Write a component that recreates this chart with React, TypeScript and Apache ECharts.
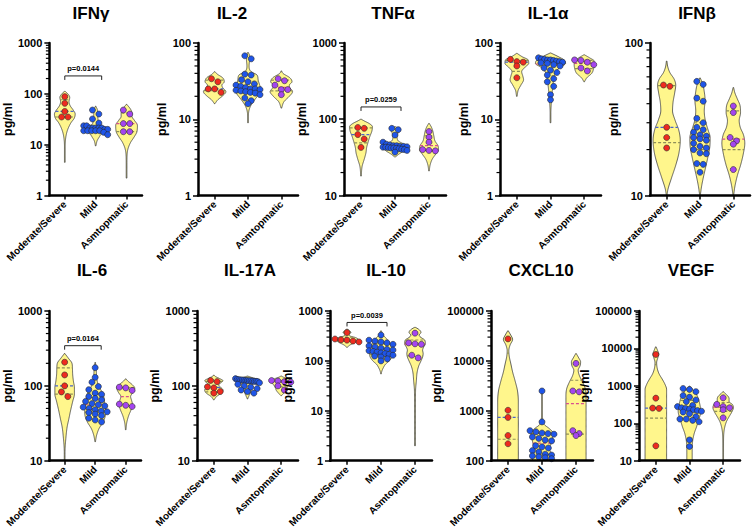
import React, { useEffect, useRef } from 'react';
import * as echarts from 'echarts';

// ---------------- DATA ----------------
const GROUPS = ['Moderate/Severe', 'Mild', 'Asmtopmatic'];
const TITLES = ['IFNγ', 'IL-2', 'TNFα', 'IL-1α', 'IFNβ', 'IL-6', 'IL-17A', 'IL-10', 'CXCL10', 'VEGF'];
const Y_MIN = [1, 1, 10, 1, 10, 10, 10, 1, 100, 10];
const Y_MAX = [1000, 100, 1000, 100, 100, 1000, 1000, 1000, 100000, 100000];
const P_TEXT = ['p=0.0144', '', 'p=0.0259', '', '', 'p=0.0164', '', 'p=0.0039', '', ''];
const P_LEVEL = [225, 0, 145, 0, 0, 344, 0, 590, 0, 0];

// points per group: [Moderate/Severe, Mild, Asymptomatic]
const IFNG_POINTS = [
  [88, 65, 45, 35, 35],
  [48, 40, 32, 26.6, 23.5, 23.5, 21.3, 21.3, 21.3, 21.3, 21.3, 20, 20, 18.8, 18.8, 18.8, 18.8, 18.8, 17.5, 15.7],
  [48, 40, 26, 26, 18, 18],
];
const IL2_POINTS = [
  [34, 31, 25, 25, 22.5],
  [68, 62, 39, 38, 33, 31, 29, 28, 27, 26, 25, 25, 24.5, 24, 23.5, 23, 22.5, 22, 21, 19, 17.5, 16],
  [34, 32, 28, 24.5, 24.5, 21],
];
const TNFA_POINTS = [
  [78, 76, 63, 55, 42.7],
  [76, 73, 62, 50, 47, 46, 45, 45, 44, 44, 43.5, 43, 43, 42.5, 42, 42, 41.5, 41, 40.5, 40, 39, 37],
  [69, 58, 50, 40, 39, 38.5],
];
const IL1A_POINTS = [
  [61, 57, 56, 50, 35],
  [64, 62, 61, 60, 60, 59, 58, 57, 56, 55, 54, 52, 50, 47, 44, 41, 38, 34, 31, 27, 21, 18],
  [60, 59, 56, 52, 47, 43],
];
const IFNB_POINTS = [
  [53, 52, 28, 24, 20.5],
  [56, 53.5, 43.5, 41.5, 32, 30, 28, 27, 26, 25, 24.5, 24, 23.5, 23, 22, 21, 20.5, 20, 19, 18.8, 16.2, 16, 14.2],
  [38.6, 35, 24, 22.8, 21.7, 14.8],
];
const IL6_POINTS = [
  [207, 140, 100, 83, 72],
  [175, 130, 112, 98, 89, 80, 77, 72, 68, 65, 62, 58, 56, 54, 52, 50, 48, 46, 45, 44, 42, 40, 37, 35, 33],
  [96, 94, 87, 57, 55, 53],
];
const IL17A_POINTS = [
  [118, 114, 97, 94, 84, 80],
  [125, 122, 121, 120, 120, 119, 118, 118, 117, 117, 116, 115, 115, 114, 110, 105, 100, 96, 92, 88, 84, 80],
  [118, 116, 114, 112, 100, 88],
];
const IL10_POINTS = [
  [370, 275, 265, 260, 250, 240],
  [330, 260, 250, 240, 230, 215, 200, 190, 180, 170, 165, 160, 155, 150, 145, 140, 135, 130, 125, 120, 110, 100],
  [360, 230, 220, 215, 130, 115],
];
const CXCL10_POINTS = [
  [27600, 1026, 737, 320, 219],
  [2500, 600, 400, 380, 360, 350, 340, 300, 280, 260, 250, 200, 190, 180, 160, 150, 135, 130, 125, 120, 115, 110],
  [8900, 2500, 2400, 400, 350, 320],
];
const VEGF_POINTS = [
  [6900, 470, 255, 250, 25],
  [850, 800, 700, 550, 500, 420, 380, 300, 280, 260, 250, 240, 230, 220, 210, 200, 180, 150, 130, 130, 120, 110, 36, 24],
  [480, 320, 280, 260, 230, 140],
];

// violin outlines: [value, relative half width]
const IFNG_VIOLIN = [
  [[4.5, 0.01], [10, 0.015], [15, 0.05], [20, 0.12], [27, 0.25], [33, 0.38], [40, 0.42], [48, 0.34], [58, 0.22], [70, 0.17], [85, 0.2], [100, 0.12], [112, 0.01]],
  [[9.5, 0.01], [12, 0.06], [14, 0.14], [16, 0.22], [18, 0.35], [20, 0.42], [22, 0.36], [25, 0.15], [30, 0.1], [38, 0.08], [48, 0.07], [57, 0.01]],
  [[2.2, 0.01], [5, 0.015], [8, 0.05], [11, 0.16], [14, 0.3], [18, 0.42], [24, 0.44], [30, 0.32], [36, 0.22], [42, 0.22], [50, 0.16], [62, 0.01]],
];
const IL2_VIOLIN = [
  [[16, 0.01], [18, 0.12], [20, 0.28], [23, 0.42], [26, 0.3], [28, 0.27], [31, 0.36], [35, 0.3], [39, 0.1], [42, 0.01]],
  [[9, 0.01], [12, 0.02], [15, 0.1], [18, 0.25], [21, 0.4], [24, 0.5], [28, 0.44], [33, 0.38], [38, 0.34], [42, 0.12], [50, 0.04], [62, 0.06], [68, 0.06], [75, 0.01]],
  [[14, 0.01], [17, 0.1], [20, 0.3], [23, 0.42], [26, 0.32], [28, 0.3], [31, 0.4], [35, 0.32], [40, 0.06], [43, 0.01]],
];
const TNFA_VIOLIN = [
  [[18, 0.01], [24, 0.04], [30, 0.12], [36, 0.18], [43, 0.21], [50, 0.26], [60, 0.33], [70, 0.4], [80, 0.42], [88, 0.3], [95, 0.12], [100, 0.01]],
  [[32, 0.01], [35, 0.15], [39, 0.35], [43, 0.4], [47, 0.33], [52, 0.12], [58, 0.08], [65, 0.1], [72, 0.14], [77, 0.08], [80, 0.01]],
  [[21, 0.01], [25, 0.04], [30, 0.12], [35, 0.25], [40, 0.35], [45, 0.33], [52, 0.22], [60, 0.18], [70, 0.14], [80, 0.08], [88, 0.01]],
];
const IL1A_VIOLIN = [
  [[20, 0.01], [24, 0.05], [28, 0.15], [33, 0.25], [37, 0.22], [42, 0.18], [48, 0.3], [54, 0.44], [60, 0.42], [66, 0.2], [73, 0.01]],
  [[9, 0.01], [13, 0.015], [18, 0.04], [24, 0.07], [30, 0.1], [36, 0.14], [42, 0.2], [48, 0.35], [54, 0.56], [60, 0.5], [66, 0.3], [74, 0.01]],
  [[31, 0.01], [35, 0.1], [40, 0.28], [46, 0.35], [52, 0.37], [58, 0.37], [64, 0.2], [70, 0.01]],
];
const IFNB_VIOLIN = [
  [[10, 0.01], [11, 0.05], [13, 0.18], [16, 0.35], [19, 0.46], [23, 0.51], [27, 0.45], [31, 0.32], [36, 0.22], [41, 0.24], [47, 0.3], [53, 0.34], [58, 0.28], [64, 0.12], [70, 0.04], [76, 0.01]],
  [[10, 0.01], [11.5, 0.06], [13, 0.12], [15, 0.2], [18, 0.3], [21, 0.37], [24, 0.38], [27, 0.3], [31, 0.2], [36, 0.16], [42, 0.19], [48, 0.16], [54, 0.1], [59, 0.01]],
  [[10, 0.01], [11.5, 0.06], [13.5, 0.15], [16, 0.28], [19, 0.38], [22, 0.43], [25, 0.38], [28, 0.26], [31, 0.22], [35, 0.27], [39, 0.25], [43, 0.15], [47, 0.06], [51, 0.01]],
];
const IL6_VIOLIN = [
  [[10, 0.01], [15, 0.02], [20, 0.05], [28, 0.1], [36, 0.17], [48, 0.25], [62, 0.33], [78, 0.4], [95, 0.4], [115, 0.36], [140, 0.33], [170, 0.32], [200, 0.3], [235, 0.15], [270, 0.01]],
  [[18, 0.01], [22, 0.06], [27, 0.16], [32, 0.3], [38, 0.4], [45, 0.43], [55, 0.4], [65, 0.37], [78, 0.33], [92, 0.2], [110, 0.1], [135, 0.06], [170, 0.04], [205, 0.01]],
  [[26, 0.01], [32, 0.04], [40, 0.12], [48, 0.22], [56, 0.28], [64, 0.24], [72, 0.2], [82, 0.3], [93, 0.37], [105, 0.25], [115, 0.1], [124, 0.01]],
];
const IL17A_VIOLIN = [
  [[65, 0.01], [72, 0.1], [80, 0.28], [88, 0.34], [96, 0.25], [103, 0.18], [110, 0.26], [117, 0.34], [126, 0.2], [134, 0.05], [139, 0.01]],
  [[67, 0.01], [73, 0.05], [80, 0.1], [88, 0.14], [96, 0.14], [104, 0.18], [110, 0.3], [116, 0.43], [122, 0.4], [128, 0.2], [135, 0.01]],
  [[74, 0.01], [80, 0.1], [87, 0.18], [95, 0.22], [103, 0.28], [110, 0.35], [117, 0.37], [124, 0.26], [130, 0.1], [135, 0.01]],
];
const IL10_VIOLIN = [
  [[188, 0.01], [210, 0.12], [235, 0.3], [255, 0.38], [275, 0.4], [295, 0.3], [315, 0.12], [340, 0.08], [370, 0.14], [400, 0.1], [433, 0.01]],
  [[55, 0.01], [62, 0.03], [72, 0.08], [85, 0.16], [100, 0.3], [120, 0.4], [140, 0.42], [165, 0.4], [200, 0.36], [240, 0.3], [280, 0.2], [330, 0.08], [370, 0.04], [400, 0.01]],
  [[2, 0.01], [10, 0.015], [25, 0.02], [40, 0.05], [60, 0.08], [80, 0.14], [100, 0.22], [120, 0.28], [140, 0.3], [165, 0.28], [190, 0.32], [220, 0.38], [260, 0.36], [300, 0.2], [330, 0.15], [370, 0.22], [410, 0.18], [450, 0.08], [470, 0.01]],
];
const CXCL10_VIOLIN = [
  [[50, 0.38], [1500, 0.38], [2500, 0.35], [4000, 0.26], [6000, 0.17], [9000, 0.1], [12000, 0.05], [16000, 0.03], [21000, 0.08], [27000, 0.17], [33000, 0.1], [40000, 0.01]],
  [[100, 0.3], [104, 0.34], [115, 0.38], [130, 0.4], [150, 0.32], [175, 0.25], [210, 0.32], [260, 0.36], [320, 0.4], [380, 0.38], [450, 0.25], [520, 0.1], [650, 0.03], [900, 0.015], [2600, 0.01]],
  [[50, 0.37], [2000, 0.37], [2800, 0.34], [3800, 0.24], [5000, 0.13], [6500, 0.08], [8000, 0.15], [9500, 0.17], [11500, 0.1], [14000, 0.01]],
];
const VEGF_VIOLIN = [
  [[5, 0.4], [800, 0.4], [1100, 0.34], [1500, 0.24], [2100, 0.12], [3000, 0.05], [4200, 0.03], [5500, 0.07], [7000, 0.11], [9000, 0.06], [11000, 0.01]],
  [[8, 0.1], [20, 0.1], [35, 0.12], [55, 0.18], [80, 0.26], [110, 0.32], [150, 0.38], [210, 0.42], [280, 0.4], [380, 0.36], [500, 0.31], [650, 0.22], [800, 0.12], [990, 0.01]],
  [[10, 0.01], [40, 0.015], [60, 0.03], [80, 0.06], [110, 0.12], [150, 0.22], [200, 0.32], [260, 0.38], [320, 0.34], [380, 0.22], [450, 0.22], [530, 0.18], [620, 0.08], [700, 0.01]],
];

const PANEL_POINTS = [IFNG_POINTS, IL2_POINTS, TNFA_POINTS, IL1A_POINTS, IFNB_POINTS, IL6_POINTS, IL17A_POINTS, IL10_POINTS, CXCL10_POINTS, VEGF_POINTS];
const PANEL_VIOLINS = [IFNG_VIOLIN, IL2_VIOLIN, TNFA_VIOLIN, IL1A_VIOLIN, IFNB_VIOLIN, IL6_VIOLIN, IL17A_VIOLIN, IL10_VIOLIN, CXCL10_VIOLIN, VEGF_VIOLIN];

// ---------------- LAYOUT / STYLE ----------------
const GRID_LEFT = [39, 198, 344, 500, 650, 40, 197, 330, 491, 639];
const GRID_WIDTH = [103, 100, 102, 101, 100, 101, 101, 102, 102, 101];
const ROW_TOP = [43, 311];
const GRID_HEIGHT = 152.5;
const NAME_GAP = [24, 17, 26, 15, 15, 23, 22, 18, 29, 27];
const TITLE_X = [91, 232, 393, 548, 697, 92, 250, 386, 541, 691];
const TITLE_Y = [13, 270];

const FONT = '"Liberation Sans", Arial, Helvetica, sans-serif';
const NARROW = '"Liberation Sans Narrow", "Liberation Sans", Arial, sans-serif';
const VIOLIN_FILL = '#fff68c';
const POINT_COLORS = ['#ee2b1f', '#1f55e8', '#a445ef'];
const MEDIAN_COLORS = ['#4863cc', '#d84f90', '#d84f90'];
const QUARTILE_COLOR = '#8f8f58';
const WIDTH_K = 0.8;
const POINT_R = 3;

function makeInterp(knots: number[][]) {
  const xs = knots.map((k) => Math.log10(k[0]));
  const ys = knots.map((k) => k[1]);
  const n = xs.length;
  const d: number[] = [];
  const m: number[] = new Array(n).fill(0);
  for (let i = 0; i < n - 1; i++) d.push((ys[i + 1] - ys[i]) / (xs[i + 1] - xs[i]));
  m[0] = d[0];
  m[n - 1] = d[n - 2];
  for (let i = 1; i < n - 1; i++) m[i] = d[i - 1] * d[i] <= 0 ? 0 : (d[i - 1] + d[i]) / 2;
  for (let i = 0; i < n - 1; i++) {
    if (d[i] === 0) { m[i] = 0; m[i + 1] = 0; continue; }
    const a = m[i] / d[i];
    const b = m[i + 1] / d[i];
    const s = a * a + b * b;
    if (s > 9) { const t = 3 / Math.sqrt(s); m[i] = t * a * d[i]; m[i + 1] = t * b * d[i]; }
  }
  return (x: number) => {
    if (x <= xs[0]) return ys[0];
    if (x >= xs[n - 1]) return ys[n - 1];
    let i = 0;
    while (x > xs[i + 1]) i++;
    const h = xs[i + 1] - xs[i];
    const t = (x - xs[i]) / h;
    const t2 = t * t, t3 = t2 * t;
    const r = (2 * t3 - 3 * t2 + 1) * ys[i] + (t3 - 2 * t2 + t) * h * m[i] + (-2 * t3 + 3 * t2) * ys[i + 1] + (t3 - t2) * h * m[i + 1];
    return Math.max(0, r);
  };
}

function quantile(sorted: number[], p: number) {
  const n = sorted.length;
  const pos = p * (n + 1);
  if (pos <= 1) return sorted[0];
  if (pos >= n) return sorted[n - 1];
  const lo = Math.floor(pos);
  const f = pos - lo;
  return sorted[lo - 1] + f * (sorted[lo] - sorted[lo - 1]);
}

function buildOption() {
  const grid: any[] = [];
  const xAxis: any[] = [];
  const yAxis: any[] = [];
  const series: any[] = [];
  const graphic: any[] = [];

  for (let i = 0; i < 10; i++) {
    const row = i < 5 ? 0 : 1;
    grid.push({ left: GRID_LEFT[i], top: ROW_TOP[row], width: GRID_WIDTH[i], height: GRID_HEIGHT });
    xAxis.push({
      gridIndex: i,
      type: 'category',
      data: GROUPS,
      z: 10,
      axisLine: { show: true, lineStyle: { color: '#000', width: 2.5 } },
      axisTick: { show: true, alignWithLabel: true, length: 4, lineStyle: { color: '#000', width: 1.5 } },
      axisLabel: { interval: 0, rotate: 45, margin: 7, color: '#000', fontSize: 10, fontWeight: 'bold', fontFamily: FONT },
      splitLine: { show: false },
    });
    yAxis.push({
      gridIndex: i,
      type: 'log',
      logBase: 10,
      min: Y_MIN[i],
      max: Y_MAX[i],
      z: 10,
      name: 'pg/ml',
      nameLocation: 'middle',
      nameGap: NAME_GAP[i],
      nameTextStyle: { color: '#000', fontSize: 12.5, fontWeight: 'bold', fontFamily: FONT },
      axisLine: { show: true, lineStyle: { color: '#000', width: 2.5 } },
      axisTick: { show: true, length: 5, lineStyle: { color: '#000', width: 1.5 } },
      axisLabel: {
        show: true, showMinLabel: true, showMaxLabel: true, margin: 7,
        color: '#000', fontSize: 11, fontWeight: 'bold', fontFamily: FONT,
        formatter: (v: number) => String(Math.round(v)),
      },
      splitLine: { show: false },
      minorTick: { show: false },
    });

    const pts = PANEL_POINTS[i];
    const vio = PANEL_VIOLINS[i];
    const interps = vio.map(makeInterp);
    const yMin = Y_MIN[i];
    const baseData = [[0, yMin], [1, yMin], [2, yMin]];

    // violins + median/quartile lines
    series.push({
      type: 'custom',
      xAxisIndex: i,
      yAxisIndex: i,
      clip: true,
      silent: true,
      z: 2,
      data: baseData,
      encode: { x: 0, y: 1 },
      renderItem: (params: any, api: any) => {
        const g = params.dataIndex;
        const knots = vio[g];
        const interp = interps[g];
        const cx = api.coord([g, yMin])[0];
        const band = api.size([1, 0])[0];
        const scale = band * WIDTH_K;
        const t0 = Math.log10(knots[0][0]);
        const t1 = Math.log10(knots[knots.length - 1][0]);
        const N = 140;
        const right: number[][] = [];
        const left: number[][] = [];
        for (let k = 0; k <= N; k++) {
          const t = t0 + ((t1 - t0) * k) / N;
          const y = api.coord([g, Math.pow(10, t)])[1];
          const hw = Math.max(0.35, interp(t) * scale);
          right.push([cx + hw, y]);
          left.push([cx - hw, y]);
        }
        const poly = right.concat(left.reverse());
        const children: any[] = [
          { type: 'polygon', shape: { points: poly }, style: { fill: VIOLIN_FILL, stroke: '#3c3c3c', lineWidth: 0.8 } },
        ];
        const sorted = [...pts[g]].sort((a, b) => a - b);
        const qs = [quantile(sorted, 0.25), quantile(sorted, 0.5), quantile(sorted, 0.75)];
        qs.forEach((v, qi) => {
          const t = Math.log10(v);
          if (t < t0 || t > t1) return;
          const y = api.coord([g, v])[1];
          const hw = interp(t) * scale;
          children.push({
            type: 'line',
            shape: { x1: cx - hw, y1: y, x2: cx + hw, y2: y },
            style: { stroke: qi === 1 ? MEDIAN_COLORS[g] : QUARTILE_COLOR, lineWidth: 1.2, lineDash: [3, 2] },
          });
        });
        return { type: 'group', children };
      },
    });

    // scatter points, beeswarm style
    series.push({
      type: 'custom',
      xAxisIndex: i,
      yAxisIndex: i,
      silent: true,
      z: 3,
      data: baseData,
      encode: { x: 0, y: 1 },
      renderItem: (params: any, api: any) => {
        const g = params.dataIndex;
        const cx = api.coord([g, yMin])[0];
        const items = pts[g].map((v) => ({ y: api.coord([g, v])[1], x: cx }));
        items.sort((a, b) => a.y - b.y);
        const D = POINT_R * 2 + 0.4;
        const rows: any[][] = [];
        items.forEach((it) => {
          const last = rows[rows.length - 1];
          if (last && it.y - last[0].y < D * 0.75) last.push(it);
          else rows.push([it]);
        });
        rows.forEach((r) => {
          const n = r.length;
          const step = n > 1 ? Math.min(D, 24 / (n - 1)) : 0;
          r.forEach((it, k) => { it.x = cx + (k - (n - 1) / 2) * step; });
        });
        const children = items.map((it) => ({
          type: 'circle',
          shape: { cx: it.x, cy: it.y, r: POINT_R },
          style: { fill: POINT_COLORS[g], stroke: '#2a2a2a', lineWidth: 0.6 },
        }));
        return { type: 'group', children };
      },
    });

    // log minor ticks on y axis
    series.push({
      type: 'custom',
      xAxisIndex: i,
      yAxisIndex: i,
      silent: true,
      z: 11,
      data: [[0, yMin]],
      encode: { x: 0, y: 1 },
      renderItem: (params: any, api: any) => {
        const x = params.coordSys.x;
        const children: any[] = [];
        const d0 = Math.round(Math.log10(Y_MIN[i]));
        const d1 = Math.round(Math.log10(Y_MAX[i]));
        for (let d = d0; d < d1; d++) {
          for (let k = 2; k <= 9; k++) {
            const y = api.coord([0, k * Math.pow(10, d)])[1];
            children.push({ type: 'line', shape: { x1: x - 3.5, y1: y, x2: x, y2: y }, style: { stroke: '#000', lineWidth: 1.2 } });
          }
        }
        return { type: 'group', children };
      },
    });

    // significance bracket
    if (P_TEXT[i]) {
      const level = P_LEVEL[i];
      const label = P_TEXT[i];
      series.push({
        type: 'custom',
        xAxisIndex: i,
        yAxisIndex: i,
        silent: true,
        z: 4,
        data: [[0, level]],
        encode: { x: 0, y: 1 },
        renderItem: (params: any, api: any) => {
          const p0 = api.coord([0, level]);
          const p1 = api.coord([1, level]);
          const x0 = p0[0];
          const x1 = p1[0] + 6;
          const y = p0[1];
          return {
            type: 'group',
            children: [
              { type: 'line', shape: { x1: x0, y1: y, x2: x1, y2: y }, style: { stroke: '#222', lineWidth: 1 } },
              { type: 'line', shape: { x1: x0, y1: y, x2: x0, y2: y + 4 }, style: { stroke: '#222', lineWidth: 1 } },
              { type: 'line', shape: { x1: x1, y1: y, x2: x1, y2: y + 4 }, style: { stroke: '#222', lineWidth: 1 } },
              {
                type: 'text',
                style: {
                  x: (x0 + x1) / 2, y: y - 3, text: label,
                  fill: '#000', font: 'bold 7.5px ' + FONT,
                  align: 'center', verticalAlign: 'bottom', textAlign: 'center', textVerticalAlign: 'bottom',
                },
              },
            ],
          };
        },
      });
    }

    graphic.push({
      type: 'text',
      x: TITLE_X[i],
      y: TITLE_Y[row],
      style: {
        text: TITLES[i], fill: '#000', font: 'bold 17px ' + NARROW,
        align: 'center', verticalAlign: 'middle', textAlign: 'center', textVerticalAlign: 'middle',
      },
    });
  }

  return {
    animation: false,
    backgroundColor: '#ffffff',
    grid,
    xAxis,
    yAxis,
    series,
    graphic,
  };
}

export default function App() {
  const ref = useRef<HTMLDivElement>(null);
  useEffect(() => {
    if (!ref.current) return;
    const chart = echarts.init(ref.current, undefined, { renderer: 'svg' });
    chart.setOption(buildOption() as any);
    return () => chart.dispose();
  }, []);
  return (
    <div
      ref={ref}
      style={{ position: 'absolute', left: 0, top: 0, width: 752, height: 530, background: '#fff' }}
    />
  );
}
